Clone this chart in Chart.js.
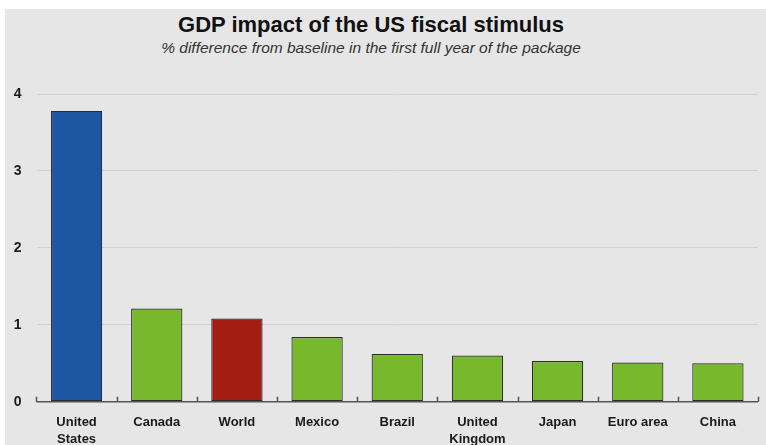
<!DOCTYPE html>
<html>
<head>
<meta charset="utf-8">
<script src="https://cdn.jsdelivr.net/npm/chart.js@4/dist/chart.umd.min.js"></script>
<style>
  body { margin: 0; background: #fff; }
  #panel { position: absolute; left: 5px; top: 9px; width: 761px; height: 436px; background: #e6e6e6; }
  #panel canvas { position: absolute; left: 0; top: 0; }
  .title { position: absolute; left: 0; width: 732px; text-align: center; color: #111; }
  #main-title { top: 3px; font: bold 22px "Liberation Sans", Arial, sans-serif; }
  #sub-title { top: 30px; font: italic 15.5px "Liberation Sans", Arial, sans-serif; color: #333; }
</style>
</head>
<body>
<div id="panel">
  <div class="title" id="main-title">GDP impact of the US fiscal stimulus</div>
  <div class="title" id="sub-title">% difference from baseline in the first full year of the package</div>
  <canvas id="chart"></canvas>
</div>
<script>
const categories = [["United", "States"], "Canada", "World", "Mexico", "Brazil", ["United", "Kingdom"], "Japan", "Euro area", "China"];
const gdpImpact = [3.78, 1.21, 1.08, 0.84, 0.62, 0.60, 0.53, 0.51, 0.50];
const barColors = ["#1d56a3", "#77b82d", "#a31d12", "#77b82d", "#77b82d", "#77b82d", "#77b82d", "#77b82d", "#77b82d"];
const yTicks = [0, 1, 2, 3, 4];

const labelFont = "\"Liberation Sans\", Arial, sans-serif";

// x axis line plus small upward ticks between categories
const categoryTicks = {
  id: "categoryTicks",
  afterDatasetsDraw(chart) {
    const x = chart.scales.x;
    const ctx = chart.ctx;
    const y0 = chart.scales.y.getPixelForValue(0);
    const step = x.width / categories.length;
    ctx.save();
    ctx.strokeStyle = "#555";
    ctx.lineWidth = 1.5;
    ctx.beginPath();
    ctx.moveTo(x.left, y0);
    ctx.lineTo(x.right, y0);
    for (let i = 0; i <= categories.length; i++) {
      const px = Math.round(x.getPixelForValue(0) - step / 2 + i * step) + 0.5;
      ctx.moveTo(px, y0);
      ctx.lineTo(px, y0 - 5);
    }
    ctx.stroke();
    ctx.restore();
  }
};

new Chart(document.getElementById("chart"), {
  type: "bar",
  data: {
    labels: categories,
    datasets: [{
      data: gdpImpact,
      backgroundColor: barColors,
      borderColor: "#2b2b2b",
      borderWidth: 1.2,
      borderSkipped: false,
      categoryPercentage: 1,
      barPercentage: 0.64
    }]
  },
  options: {
    responsive: true,
    maintainAspectRatio: false,
    animation: false,
    layout: { padding: { top: 85, right: 8, left: 0, bottom: 0 } },
    plugins: {
      legend: { display: false },
      tooltip: { enabled: false }
    },
    scales: {
      x: {
        grid: { display: false, drawTicks: false },
        border: { display: false },
        afterFit(axis) { axis.height = 43.3; },
        ticks: {
          padding: 12,
          color: "#1a1a1a",
          maxRotation: 0,
          autoSkip: false,
          font: { family: labelFont, size: 13, weight: "bold", lineHeight: 1.3 }
        }
      },
      y: {
        min: 0,
        max: 4,
        afterFit(axis) { axis.width = 31.5; },
        afterBuildTicks(axis) { axis.ticks = yTicks.map(v => ({ value: v })); },
        grid: { color: "#d2d2d2", lineWidth: 1, drawTicks: false },
        border: { display: false },
        ticks: {
          padding: 15,
          color: "#1a1a1a",
          font: { family: labelFont, size: 14, weight: "bold" }
        }
      }
    }
  },
  plugins: [categoryTicks]
});
</script>
</body>
</html>
